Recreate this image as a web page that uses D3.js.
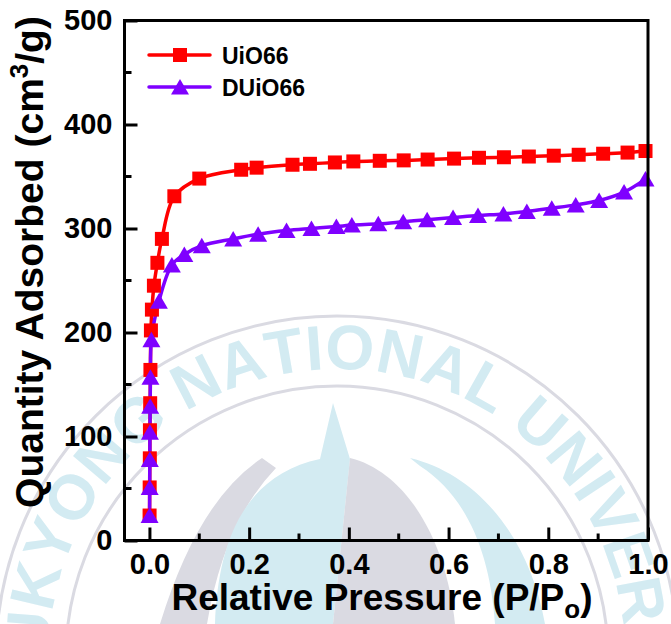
<!DOCTYPE html>
<html>
<head>
<meta charset="utf-8">
<script src="https://cdn.jsdelivr.net/npm/d3@7"></script>
<style>
  body { margin: 0; background: #ffffff; }
  svg { display: block; }
  text { font-family: "Liberation Sans", Arial, sans-serif; font-weight: bold; }
</style>
</head>
<body>
<svg id="chart" width="671" height="624"></svg>
<script>
// N2 adsorption isotherms, 77 K
const seriesNames = ["UiO66", "DUiO66"];
const seriesColors = ["#ff0000", "#7f00ff"];

const uioPressure = [0.0003, 0.0005, 0.0008, 0.001, 0.0015, 0.002, 0.003, 0.005, 0.009, 0.016, 0.025,
  0.05, 0.1, 0.184, 0.215, 0.287, 0.322, 0.372, 0.409, 0.462, 0.51, 0.558, 0.611, 0.661, 0.711,
  0.761, 0.811, 0.861, 0.91, 0.959, 0.995];
const uioQuantity = [24, 51, 79, 106, 132, 164, 202, 222, 245, 267, 290,
  331, 348, 356.5, 358.5, 361.3, 362.2, 363.5, 364.5, 365.1, 365.5, 366.3, 367.2, 368, 368.5,
  369.2, 370, 370.9, 371.9, 373, 374.5];

const duioPressure = [0.0003, 0.0005, 0.0008, 0.001, 0.0015, 0.002, 0.004, 0.019, 0.045, 0.07, 0.105,
  0.168, 0.218, 0.275, 0.325, 0.375, 0.406, 0.459, 0.509, 0.557, 0.609, 0.659, 0.71, 0.757,
  0.807, 0.855, 0.902, 0.952, 0.995];
const duioQuantity = [24, 51, 78, 104, 129, 157, 193, 230, 265, 275, 283.5,
  290, 294.5, 298, 300, 301.9, 303.3, 304.5, 306.5, 308.5, 310.5, 312.5, 314, 316.3,
  319.5, 322.7, 326.9, 335, 347.5];

const xTickValues = [0.0, 0.2, 0.4, 0.6, 0.8, 1.0];
const xMinorValues = [0.1, 0.3, 0.5, 0.7, 0.9];
const yTickValues = [0, 100, 200, 300, 400, 500];
const yMinorValues = [50, 150, 250, 350, 450];

const sealText = "PUKYONG NATIONAL UNIVERSITY";

const W = 671, H = 624;
const svg = d3.select("#chart");

// ---------- background seal ----------
const seal = svg.append("g").attr("class", "seal");
const sc = { x: 337, y: 657 };
const blue = "#d3ebf2", grey = "#dadae2";
[341, 271].forEach(r => {
  seal.append("circle").attr("cx", sc.x).attr("cy", sc.y).attr("r", r)
    .attr("fill", "none").attr("stroke", grey).attr("stroke-width", 3);
});

// lay the lettering out one glyph at a time around the ring
(function ringLetters() {
  const fs = 63, rBase = 288;
  const probe = seal.append("text").attr("font-size", fs).attr("opacity", 0);
  const widths = sealText.split("").map(ch => {
    probe.text(ch === " " ? "\u00a0" : ch);
    return probe.node().getComputedTextLength();
  });
  probe.remove();
  const centers = [];
  let s = 0;
  widths.forEach(w => { centers.push(s + w / 2); s += w; });
  const anchorIdx = sealText.indexOf("NATIONAL") + 4;   // the "O"
  const anchorAngle = 2.4 * Math.PI / 180;
  sealText.split("").forEach((ch, i) => {
    if (ch === " ") return;
    const a = anchorAngle + (centers[i] - centers[anchorIdx]) / rBase;
    const px = sc.x + rBase * Math.sin(a), py = sc.y - rBase * Math.cos(a);
    const cxl = sc.x + (rBase + 22) * Math.sin(a), cyl = sc.y - (rBase + 22) * Math.cos(a);
    if (cxl < -15 || cxl > W + 15 || cyl > H + 15) return;
    seal.append("text").attr("font-size", fs).attr("fill", blue)
      .attr("text-anchor", "middle")
      .attr("transform", `translate(${px},${py}) rotate(${a * 180 / Math.PI})`)
      .text(ch);
  });
})();

seal.append("path").attr("fill", grey)
  .attr("d", "M262,458 Q198,500 160,624 L207,624 Q224,522 276,468 Z");
seal.append("path").attr("fill", blue)
  .attr("d", "M215,624 C218,540 245,475 320,459 L333,403 L350,459 L333,624 Z");
seal.append("path").attr("fill", grey)
  .attr("d", "M350,458 C400,470 445,530 455,624 L333,624 Z");
seal.append("path").attr("fill", blue)
  .attr("d", "M410,458 C480,475 530,540 545,624 L495,624 C490,550 465,495 420,466 Z");

// ---------- plot ----------
const box = { left: 124.5, right: 648, top: 20.5, bottom: 540.5 };
const x = d3.scaleLinear().domain([-0.05, 1.0]).range([box.left, box.right]);
const y = d3.scaleLinear().domain([0, 500]).range([box.bottom, box.top]);

const plot = svg.append("g");

const series = [
  { name: seriesNames[0], color: seriesColors[0], shape: "square",
    pts: uioPressure.map((p, i) => [p, uioQuantity[i]]) },
  { name: seriesNames[1], color: seriesColors[1], shape: "triangle",
    pts: duioPressure.map((p, i) => [p, duioQuantity[i]]) }
];

const line = d3.line().x(d => x(d[0])).y(d => y(d[1])).curve(d3.curveCatmullRom.alpha(0.5));

function marker(sel, shape, color) {
  if (shape === "square") {
    sel.append("rect").attr("x", -7).attr("y", -7).attr("width", 14).attr("height", 14)
      .attr("fill", color);
  } else {
    sel.append("path").attr("d", "M0,-8 L9,7.5 L-9,7.5 Z").attr("fill", color);
  }
}

series.forEach(s => {
  plot.append("path").datum(s.pts).attr("d", line)
    .attr("fill", "none").attr("stroke", s.color).attr("stroke-width", 3.5);
});
series.forEach(s => {
  plot.selectAll(null).data(s.pts).enter().append("g")
    .attr("transform", d => `translate(${x(d[0])},${y(d[1])})`)
    .each(function () { marker(d3.select(this), s.shape, s.color); });
});

// ---------- axes ----------
const axes = svg.append("g");
const xAxis = axes.append("g").attr("transform", `translate(0,${box.bottom})`)
  .call(d3.axisBottom(x).tickValues(xTickValues).tickSize(-13).tickPadding(13)
    .tickFormat(d3.format(".1f")));
xAxis.append("g").selectAll("line").data(xMinorValues).enter().append("line")
  .attr("x1", d => x(d)).attr("x2", d => x(d)).attr("y1", 0).attr("y2", -7);
const yAxis = axes.append("g").attr("transform", `translate(${box.left},0)`)
  .call(d3.axisLeft(y).tickValues(yTickValues).tickSize(-13).tickPadding(12)
    .tickFormat(d3.format("d")));
yAxis.append("g").selectAll("line").data(yMinorValues).enter().append("line")
  .attr("x1", 0).attr("x2", 7).attr("y1", d => y(d)).attr("y2", d => y(d));

[xAxis, yAxis].forEach(a => {
  a.select(".domain").remove();
  a.selectAll("line").attr("stroke", "#000").attr("stroke-width", 3);
  a.selectAll("text").attr("fill", "#000").attr("font-size", 29)
    .style("font-family", "'Liberation Sans', Arial, sans-serif").style("font-weight", "bold");
});
xAxis.selectAll(".tick text").attr("dy", "0.71em");

axes.append("rect")
  .attr("x", box.left).attr("y", box.top)
  .attr("width", box.right - box.left).attr("height", box.bottom - box.top)
  .attr("fill", "none").attr("stroke", "#000").attr("stroke-width", 3);

// axis titles
const xt = svg.append("text").attr("x", 382).attr("y", 610)
  .attr("text-anchor", "middle").attr("font-size", 37).attr("fill", "#000");
xt.append("tspan").text("Relative Pressure (P/P");
xt.append("tspan").attr("font-size", 26).attr("dy", 8).text("o");
xt.append("tspan").attr("dy", -8).text(")");

const yt = svg.append("text").attr("transform", "translate(43,262) rotate(-90)")
  .attr("text-anchor", "middle").attr("font-size", 39).attr("fill", "#000");
yt.append("tspan").text("Quantity Adsorbed (cm");
yt.append("tspan").attr("font-size", 26).attr("dy", -15).text("3");
yt.append("tspan").attr("dy", 15).text("/g)");

// ---------- legend ----------
const legend = svg.append("g");
series.forEach((s, i) => {
  const g = legend.append("g").attr("transform", `translate(0,${55 + i * 32})`);
  g.append("line").attr("x1", 149).attr("x2", 210).attr("y1", 0).attr("y2", 0)
    .attr("stroke", s.color).attr("stroke-width", 3.5).attr("stroke-linecap", "round");
  const m = g.append("g").attr("transform", "translate(180,0)");
  marker(m, s.shape, s.color);
  g.append("text").attr("x", 222).attr("y", 8.5).attr("font-size", 23).attr("fill", "#000").text(s.name);
});
</script>
</body>
</html>
